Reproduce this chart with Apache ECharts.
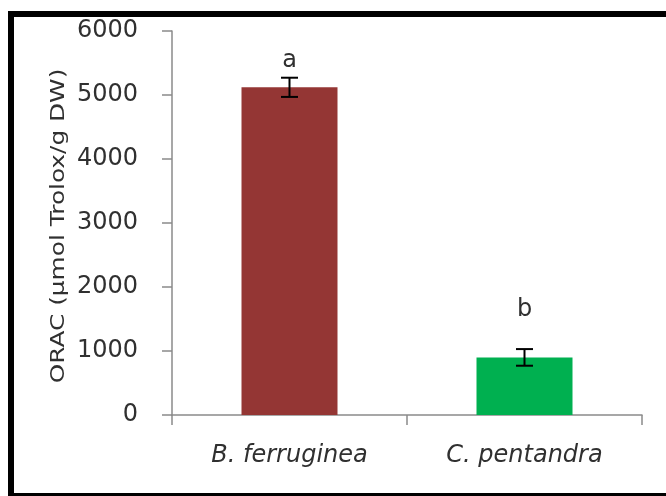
<!DOCTYPE html>
<html>
<head>
<meta charset="utf-8">
<script src="https://cdn.jsdelivr.net/npm/echarts@6/dist/echarts.min.js"></script>
<style>
  html, body { margin: 0; padding: 0; background: #fff; overflow: hidden; }
  #wrap { position: relative; width: 666px; height: 496px; overflow: hidden; background: #fff; }
  #chart { position: absolute; left: 0; top: 0; width: 666px; height: 496px; }
  /* chart frame: left, top and bottom edges only */
  #frame {
    position: absolute; left: 8px; top: 11px; width: 700px; height: 488px;
    box-sizing: border-box;
    border-left: 6px solid #000; border-top: 6px solid #000; border-bottom: 6px solid #000;
    pointer-events: none;
  }
</style>
</head>
<body>
<div id="wrap">
  <div id="chart"></div>
  <div id="frame"></div>
</div>
<script>
// Species compared
const species = ['B. ferruginea', 'C. pentandra'];
// Mean ORAC values (µmol Trolox / g DW) and their error half-widths
const oracMean = [5120, 900];
const oracErr = [150, 130];
// Significance letters and the axis level where each sits
const groupLetters = ['a', 'b'];
const letterLevel = [5540, 1645];
// Value axis range
const yMin = 0;
const yMax = 6000;
const yStep = 1000;
const yTitle = 'ORAC (µmol Trolox/g DW)';

const barColors = ['#943634', '#00b050'];
const FONT = '"DejaVu Sans", Verdana, sans-serif';
const TEXT = '#303030';
const AXIS = '#8a8a8a';

const chart = echarts.init(document.getElementById('chart'));

const option = {
  animation: false,
  backgroundColor: '#ffffff',
  grid: { left: 172, right: 24, top: 31, bottom: 81, containLabel: false },
  xAxis: {
    type: 'category',
    data: species,
    boundaryGap: true,
    axisLine: { show: true, lineStyle: { color: AXIS, width: 1.5 } },
    axisTick: { show: true, length: 10, lineStyle: { color: AXIS, width: 1.5 } },
    axisLabel: {
      margin: 29, fontSize: 24, fontStyle: 'italic', fontFamily: FONT, color: TEXT
    },
    splitLine: { show: false }
  },
  yAxis: {
    type: 'value',
    min: yMin,
    max: yMax,
    interval: yStep,
    axisLine: { show: true, lineStyle: { color: AXIS, width: 1.5 } },
    axisTick: { show: true, length: 10, lineStyle: { color: AXIS, width: 1.5 } },
    axisLabel: {
      margin: 34, fontSize: 24, fontFamily: FONT, color: TEXT,
      formatter: function (v) { return String(v); }
    },
    splitLine: { show: false }
  },
  graphic: [
    {
      // value axis title, stretched along its length
      type: 'text',
      silent: true,
      x: 59,
      y: 226,
      rotation: Math.PI / 2,
      scaleX: 1.24,
      scaleY: 1,
      style: {
        text: yTitle,
        fontSize: 20,
        fontFamily: FONT,
        fill: TEXT,
        align: 'center',
        verticalAlign: 'middle',
        textAlign: 'center',
        textVerticalAlign: 'middle'
      }
    }
  ],
  series: [
    {
      type: 'bar',
      barWidth: 96,
      data: oracMean.map((v, i) => ({ value: v, itemStyle: { color: barColors[i] } })),
      z: 2
    },
    {
      // error bars
      type: 'custom',
      z: 3,
      data: oracMean.map((v, i) => [i, v - oracErr[i], v + oracErr[i]]),
      encode: { x: 0, y: [1, 2] },
      renderItem: function (params, api) {
        const i = api.value(0);
        const top = api.coord([i, api.value(2)]);
        const bot = api.coord([i, api.value(1)]);
        const hw = 8.5;
        const st = { stroke: '#000', lineWidth: 2 };
        return {
          type: 'group',
          children: [
            { type: 'line', shape: { x1: top[0], y1: top[1], x2: bot[0], y2: bot[1] }, style: st },
            { type: 'line', shape: { x1: top[0] - hw, y1: top[1], x2: top[0] + hw, y2: top[1] }, style: st },
            { type: 'line', shape: { x1: bot[0] - hw, y1: bot[1], x2: bot[0] + hw, y2: bot[1] }, style: st }
          ]
        };
      }
    },
    {
      // significance letters
      type: 'custom',
      z: 4,
      data: groupLetters.map((t, i) => [i, letterLevel[i]]),
      encode: { x: 0, y: 1 },
      renderItem: function (params, api) {
        const i = api.value(0);
        const p = api.coord([i, api.value(1)]);
        return {
          type: 'text',
          x: p[0],
          y: p[1],
          style: {
            text: groupLetters[params.dataIndex],
            fontSize: 24,
            fontFamily: FONT,
            fill: TEXT,
            align: 'center',
            verticalAlign: 'middle',
            textAlign: 'center',
            textVerticalAlign: 'middle'
          }
        };
      }
    }
  ]
};

chart.setOption(option);
</script>
</body>
</html>
